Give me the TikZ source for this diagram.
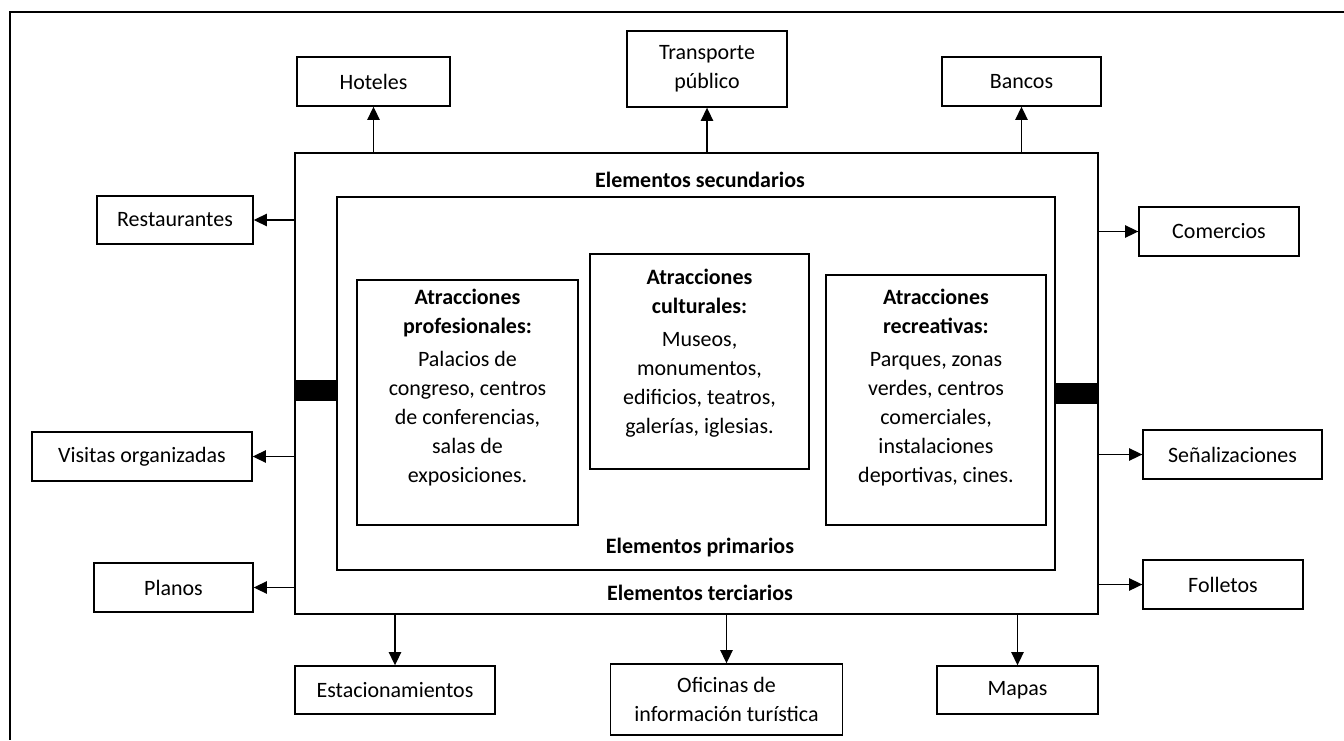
\documentclass[tikz,border=0pt]{standalone}
\usepackage{fontspec}
\setmainfont{Carlito}
\usepackage{tikz}
\usetikzlibrary{arrows.meta}
\definecolor{ink}{HTML}{000000}
\tikzset{
  border/.style={draw=ink, line width=1.1pt},
  frame/.style={draw=ink, line width=1.6pt, inner sep=0pt},
  attr/.style={draw=ink, line width=0.8pt, inner xsep=0pt},
  item/.style={draw=ink, line width=0.8pt, inner sep=0pt, align=center},
  arr/.style={draw=ink, line width=0.8pt, -{Triangle[length=7.5pt,width=7pt]}},
  bar/.style={fill=ink},
  head/.style={font=\fontsize{12.5}{16.5}\selectfont\bfseries}
}

\begin{document}
\begin{tikzpicture}[x=0.02cm, y=-0.02cm, font=\fontsize{12.5}{16.5}\selectfont]
  \useasboundingbox (0,0) rectangle (1344,740);
  \draw[border] (1344,12) -- (10,12) -- (10,740);

  % frames
  \node[frame, minimum width=16.06cm, minimum height=9.22cm] (sec) at (696.5,383.5) {};
  \node[frame, minimum width=14.36cm, minimum height=7.46cm] (prim) at (696,383.5) {};
  \fill[bar] (295,380) rectangle (337,401);
  \fill[bar] (1055,383) rectangle (1098,404);

  \node[head] (seclbl) at (700,180) {Elementos secundarios};
  \node[head] (primlbl) at (700,548) {Elementos primarios};
  \node[head] (terlbl) at (700,593) {Elementos terciarios};

  % attractions
  \node[attr, inner ysep=0.18cm] (prof) at (467.5,402.5) {\parbox[c][4.54cm][t]{4.42cm}{\centering
    \textbf{Atracciones}\\ \textbf{profesionales:}\\[2.5pt]
    Palacios de\\ congreso, centros\\ de conferencias,\\ salas de\\ exposiciones.}};
  \node[attr, inner ysep=0.3cm] (cult) at (699.5,361.5) {\parbox[c][3.7cm][t]{4.38cm}{\centering
    \textbf{Atracciones}\\ \textbf{culturales:}\\[2.5pt]
    Museos,\\ monumentos,\\ edificios, teatros,\\ galerías, iglesias.}};
  \node[attr, inner ysep=0.28cm] (recr) at (936,400) {\parbox[c][4.44cm][t]{4.4cm}{\centering
    \textbf{Atracciones}\\ \textbf{recreativas:}\\[2.5pt]
    Parques, zonas\\ verdes, centros\\ comerciales,\\ instalaciones\\ deportivas, cines.}};

  % outer elements
  \node[item, minimum width=3.06cm, minimum height=0.98cm] (hot) at (373.5,81.5) {Hoteles};
  \node[item, minimum width=3.2cm, minimum height=1.52cm] (trans) at (707,69) {Transporte\\ público};
  \node[item, minimum width=3.18cm, minimum height=0.98cm] (banc) at (1021.5,81.5) {Bancos};
  \node[item, minimum width=3.12cm, minimum height=0.96cm] (rest) at (175,220) {Restaurantes};
  \node[item, minimum width=3.2cm, minimum height=0.98cm] (com) at (1219,231.5) {Comercios};
  \node[item, minimum width=4.4cm, minimum height=0.98cm] (vis) at (142,456.5) {Visitas organizadas};
  \node[item, minimum width=3.58cm, minimum height=0.98cm] (senal) at (1232.5,454.5) {Señalizaciones};
  \node[item, minimum width=3.18cm, minimum height=0.98cm] (plan) at (173.5,587.5) {Planos};
  \node[item, minimum width=3.2cm, minimum height=0.98cm] (foll) at (1223,584.5) {Folletos};
  \node[item, minimum width=4.0cm, minimum height=0.96cm] (est) at (395,690) {Estacionamientos};
  \node[item, minimum width=4.64cm, minimum height=1.42cm] (ofic) at (726.5,699.5) {Oficinas de\\ información turística};
  \node[item, minimum width=3.22cm, minimum height=0.96cm] (mapas) at (1017.5,690) {Mapas};

  % connectors
  \draw[arr] (hot.south |- sec.north) -- (hot.south);
  \draw[arr] (trans.south |- sec.north) -- (trans.south);
  \draw[arr] (banc.south |- sec.north) -- (banc.south);
  \draw[arr] (rest.east -| sec.west) -- (rest.east);
  \draw[arr] (vis.east -| sec.west) -- (vis.east);
  \draw[arr] (plan.east -| sec.west) -- (plan.east);
  \draw[arr] (com.west -| sec.east) -- (com.west);
  \draw[arr] (senal.west -| sec.east) -- (senal.west);
  \draw[arr] (foll.west -| sec.east) -- (foll.west);
  \draw[arr] (est.north |- sec.south) -- (est.north);
  \draw[arr] (ofic.north |- sec.south) -- (ofic.north);
  \draw[arr] (mapas.north |- sec.south) -- (mapas.north);
\end{tikzpicture}
\end{document}
